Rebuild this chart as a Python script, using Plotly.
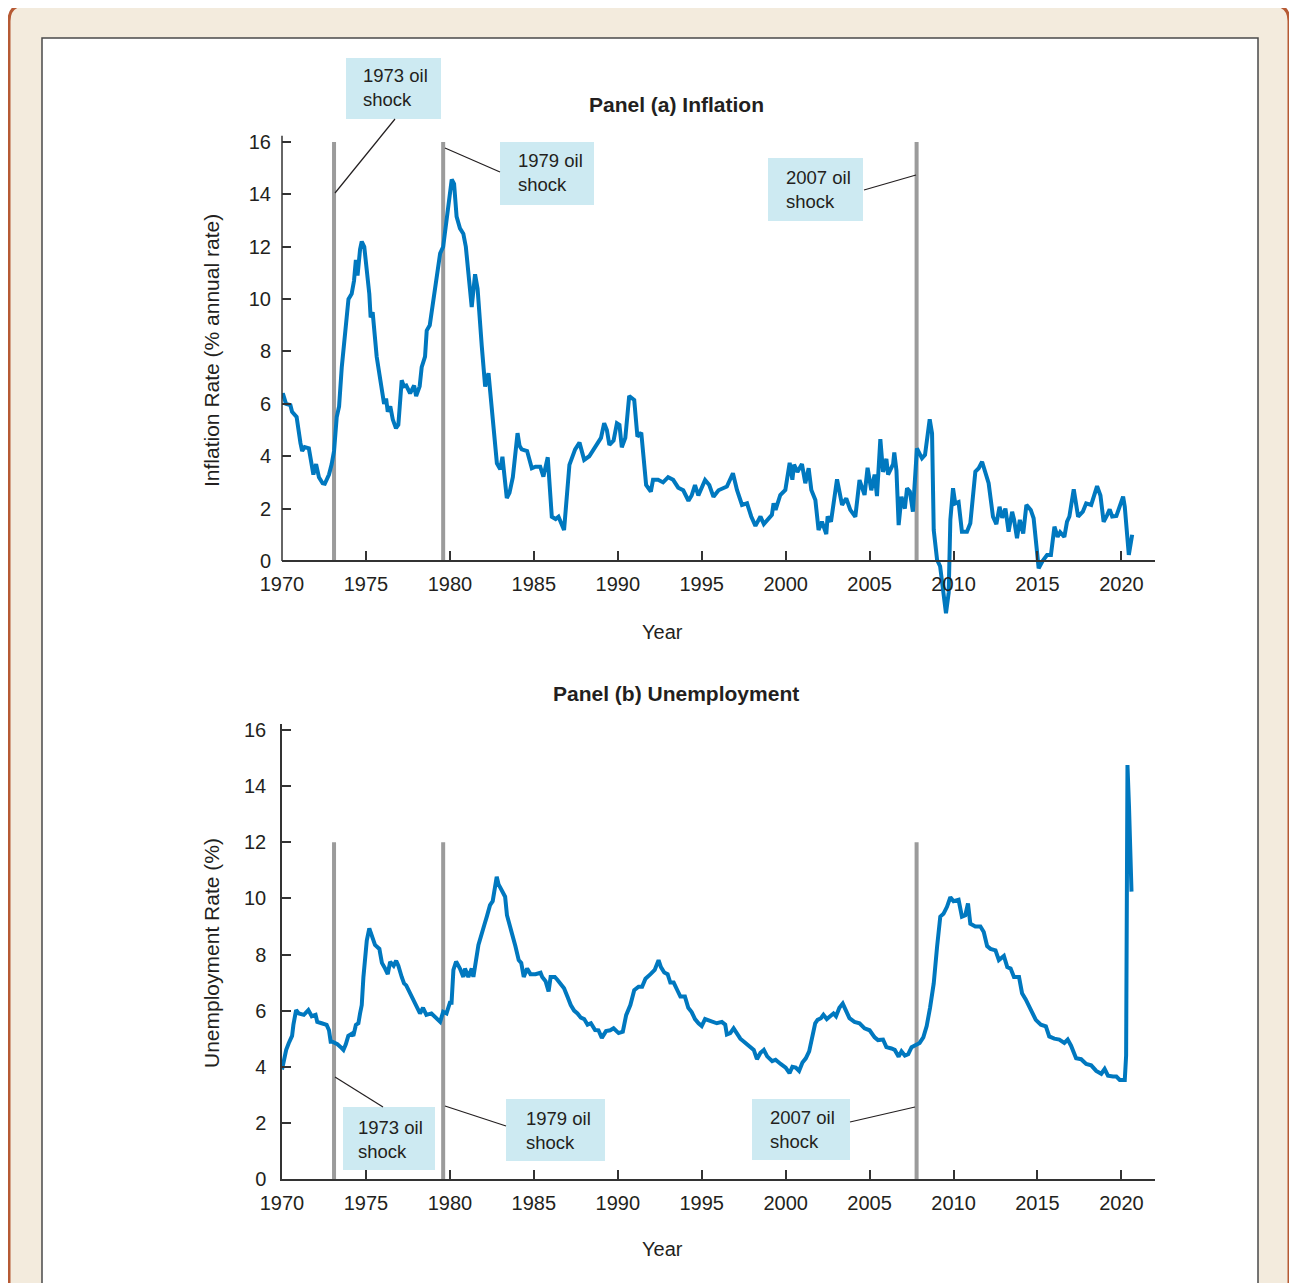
import plotly.graph_objects as go

# page body margin in the viewer is 8px; the figure is sized so the picture fills the window
OFF = 8
W, H = 1297 - OFF, 1283 - OFF

# ---------------- data ----------------
INFL_YEARS = [
    1970.00, 1970.05, 1970.24, 1970.50, 1970.60, 1970.87, 1971.10, 1971.20, 1971.35, 1971.60,
    1971.87, 1972.03, 1972.20, 1972.42, 1972.55, 1972.80, 1972.96, 1973.10, 1973.26, 1973.40,
    1973.56, 1973.70, 1973.96, 1974.15, 1974.29, 1974.40, 1974.50, 1974.65, 1974.75, 1974.90,
    1975.05, 1975.20, 1975.28, 1975.40, 1975.64, 1975.85, 1976.08, 1976.20, 1976.30, 1976.45,
    1976.60, 1976.79, 1976.93, 1977.13, 1977.26, 1977.40, 1977.63, 1977.87, 1977.99, 1978.20,
    1978.32, 1978.52, 1978.62, 1978.80, 1979.02, 1979.20, 1979.42, 1979.60, 1979.82, 1980.00,
    1980.11, 1980.25, 1980.40, 1980.60, 1980.80, 1980.95, 1981.20, 1981.30, 1981.50, 1981.65,
    1981.90, 1982.10, 1982.30, 1982.45, 1982.60, 1982.80, 1983.00, 1983.13, 1983.39, 1983.55,
    1983.75, 1984.03, 1984.15, 1984.28, 1984.60, 1984.88, 1985.10, 1985.38, 1985.57, 1985.83,
    1986.07, 1986.30, 1986.47, 1986.80, 1987.12, 1987.46, 1987.72, 1988.00, 1988.30, 1988.75,
    1989.00, 1989.19, 1989.35, 1989.50, 1989.75, 1989.95, 1990.10, 1990.24, 1990.45, 1990.68,
    1990.85, 1990.98, 1991.17, 1991.40, 1991.69, 1991.97, 1992.10, 1992.40, 1992.70, 1993.00,
    1993.30, 1993.60, 1993.90, 1994.21, 1994.40, 1994.60, 1994.80, 1995.20, 1995.45, 1995.70,
    1996.00, 1996.50, 1996.86, 1997.10, 1997.40, 1997.70, 1997.95, 1998.20, 1998.50, 1998.70,
    1999.18, 1999.28, 1999.40, 1999.68, 1999.98, 2000.24, 2000.40, 2000.50, 2000.70, 2000.97,
    2001.17, 2001.37, 2001.53, 2001.77, 2001.96, 2002.16, 2002.42, 2002.50, 2002.70, 2003.06,
    2003.36, 2003.61, 2003.85, 2004.15, 2004.40, 2004.70, 2004.88, 2005.10, 2005.30, 2005.44,
    2005.64, 2005.80, 2006.00, 2006.10, 2006.40, 2006.47, 2006.60, 2006.73, 2006.90, 2007.10,
    2007.23, 2007.40, 2007.58, 2007.82, 2008.12, 2008.30, 2008.58, 2008.72, 2008.82, 2009.02,
    2009.20, 2009.37, 2009.55, 2009.71, 2009.81, 2009.97, 2010.10, 2010.30, 2010.50, 2010.80,
    2011.00, 2011.30, 2011.50, 2011.70, 2011.90, 2012.09, 2012.35, 2012.55, 2012.74, 2012.90,
    2013.09, 2013.28, 2013.49, 2013.60, 2013.78, 2013.95, 2014.15, 2014.34, 2014.60, 2014.77,
    2015.07, 2015.30, 2015.57, 2015.80, 2016.01, 2016.20, 2016.35, 2016.60, 2016.76, 2016.90,
    2017.16, 2017.42, 2017.70, 2017.90, 2018.20, 2018.35, 2018.55, 2018.75, 2018.94, 2019.15,
    2019.30, 2019.45, 2019.70, 2020.10, 2020.20, 2020.44, 2020.64,
]
INFL_VALUES = [
    6.2, 6.4, 6.0, 5.95, 5.7, 5.5, 4.5, 4.2, 4.35, 4.3,
    3.3, 3.7, 3.2, 2.97, 2.95, 3.3, 3.7, 4.2, 5.5, 5.9,
    7.4, 8.2, 10.0, 10.2, 10.7, 11.5, 10.9, 11.9, 12.2, 12.0,
    11.1, 10.2, 9.3, 9.5, 7.8, 7.0, 6.0, 6.2, 5.7, 5.9,
    5.4, 5.07, 5.2, 6.9, 6.67, 6.7, 6.4, 6.7, 6.3, 6.67,
    7.4, 7.8, 8.8, 9.0, 10.0, 10.6, 11.75, 12.0, 13.15, 14.0,
    14.57, 14.4, 13.15, 12.7, 12.5, 12.0, 10.1, 9.7, 10.95, 10.4,
    8.2, 6.66, 7.17, 6.0, 5.0, 3.73, 3.5, 3.98, 2.4, 2.6,
    3.2, 4.88, 4.4, 4.26, 4.2, 3.54, 3.6, 3.6, 3.22, 3.96,
    1.69, 1.6, 1.69, 1.18, 3.67, 4.26, 4.52, 3.86, 4.0, 4.49,
    4.7, 5.26, 5.0, 4.43, 4.6, 5.26, 5.2, 4.34, 4.7, 6.3,
    6.2, 6.15, 4.75, 4.9, 2.9, 2.65, 3.1, 3.1, 3.0, 3.2,
    3.1, 2.8, 2.7, 2.3, 2.5, 2.9, 2.5, 3.09, 2.9, 2.45,
    2.7, 2.84, 3.35, 2.71, 2.14, 2.2, 1.7, 1.34, 1.7, 1.41,
    1.76, 2.2, 1.95, 2.52, 2.71, 3.75, 3.1, 3.68, 3.4, 3.7,
    2.97, 3.54, 2.71, 2.33, 1.18, 1.5, 1.03, 1.7, 1.5, 3.12,
    2.14, 2.39, 1.95, 1.69, 3.09, 2.52, 3.56, 2.7, 3.3, 2.48,
    4.65, 3.4, 3.9, 3.3, 3.7, 4.14, 3.45, 1.37, 2.45, 2.0,
    2.78, 2.65, 1.88, 4.3, 3.92, 4.05, 5.41, 4.87, 1.18, 0.04,
    -0.2, -1.23, -2.0, -1.22, 1.57, 2.78, 2.2, 2.25, 1.12, 1.12,
    1.44, 3.41, 3.54, 3.79, 3.4, 2.97, 1.69, 1.41, 2.07, 1.65,
    2.0, 1.12, 1.88, 1.6, 0.87, 1.57, 1.05, 2.14, 1.95, 1.63,
    -0.28, 0.0, 0.23, 0.23, 1.31, 0.92, 1.1, 0.92, 1.5, 1.7,
    2.74, 1.69, 1.88, 2.2, 2.14, 2.46, 2.86, 2.5, 1.5, 1.75,
    1.97, 1.7, 1.72, 2.46, 2.07, 0.23, 1.0,
]

UNEMP_YEARS = [
    1970.00, 1970.25, 1970.40, 1970.60, 1970.68, 1970.84, 1971.00, 1971.30, 1971.57, 1971.77,
    1972.00, 1972.10, 1972.36, 1972.66, 1972.80, 1972.90, 1973.00, 1973.30, 1973.50, 1973.66,
    1973.80, 1973.95, 1974.15, 1974.25, 1974.40, 1974.55, 1974.65, 1974.75, 1974.85, 1974.95,
    1975.05, 1975.20, 1975.35, 1975.54, 1975.80, 1975.95, 1976.14, 1976.30, 1976.44, 1976.65,
    1976.80, 1976.93, 1977.13, 1977.27, 1977.40, 1977.57, 1977.77, 1978.00, 1978.22, 1978.40,
    1978.60, 1978.90, 1979.22, 1979.42, 1979.60, 1979.80, 1980.00, 1980.10, 1980.21, 1980.37,
    1980.60, 1980.80, 1980.90, 1981.10, 1981.30, 1981.40, 1981.70, 1981.90, 1982.05, 1982.20,
    1982.39, 1982.55, 1982.79, 1982.90, 1983.10, 1983.29, 1983.40, 1983.60, 1983.76, 1983.90,
    1984.10, 1984.25, 1984.40, 1984.60, 1984.80, 1985.10, 1985.40, 1985.50, 1985.70, 1985.88,
    1986.00, 1986.25, 1986.40, 1986.60, 1986.80, 1987.00, 1987.20, 1987.40, 1987.60, 1987.80,
    1988.00, 1988.20, 1988.40, 1988.65, 1988.85, 1989.05, 1989.30, 1989.55, 1989.75, 1990.05,
    1990.30, 1990.50, 1990.75, 1990.98, 1991.24, 1991.45, 1991.65, 1991.95, 1992.20, 1992.43,
    1992.57, 1992.77, 1992.97, 1993.13, 1993.33, 1993.57, 1993.73, 1994.00, 1994.20, 1994.40,
    1994.60, 1994.81, 1995.00, 1995.20, 1995.40, 1995.70, 1995.90, 1996.20, 1996.40, 1996.50,
    1996.70, 1996.90, 1997.10, 1997.30, 1997.50, 1997.80, 1998.10, 1998.29, 1998.50, 1998.70,
    1998.90, 1999.20, 1999.40, 1999.70, 2000.00, 2000.23, 2000.40, 2000.60, 2000.80, 2001.00,
    2001.20, 2001.40, 2001.60, 2001.76, 2001.90, 2002.10, 2002.25, 2002.45, 2002.65, 2002.85,
    2003.00, 2003.20, 2003.40, 2003.60, 2003.80, 2004.10, 2004.40, 2004.70, 2005.00, 2005.30,
    2005.50, 2005.80, 2006.00, 2006.30, 2006.50, 2006.73, 2006.90, 2007.10, 2007.30, 2007.50,
    2007.70, 2007.98, 2008.20, 2008.40, 2008.60, 2008.82, 2009.02, 2009.21, 2009.40, 2009.61,
    2009.81, 2010.00, 2010.30, 2010.50, 2010.70, 2010.86, 2011.00, 2011.30, 2011.60, 2011.80,
    2012.00, 2012.20, 2012.50, 2012.70, 2013.00, 2013.20, 2013.40, 2013.60, 2013.90, 2014.08,
    2014.30, 2014.50, 2014.70, 2014.90, 2015.20, 2015.50, 2015.70, 2016.00, 2016.30, 2016.60,
    2016.80, 2017.00, 2017.30, 2017.60, 2017.90, 2018.20, 2018.50, 2018.80, 2019.00, 2019.20,
    2019.50, 2019.70, 2019.90, 2020.20, 2020.28, 2020.36, 2020.45, 2020.53, 2020.60,
]
UNEMP_VALUES = [
    3.9, 4.6, 4.84, 5.1, 5.5, 6.02, 5.9, 5.85, 6.02, 5.8,
    5.85, 5.6, 5.55, 5.49, 5.3, 4.89, 4.89, 4.8, 4.7, 4.6,
    4.8, 5.1, 5.17, 5.1, 5.49, 5.55, 5.9, 6.2, 7.2, 8.04,
    8.5, 8.93, 8.7, 8.34, 8.2, 7.7, 7.5, 7.3, 7.74, 7.6,
    7.78, 7.6, 7.2, 6.97, 6.9, 6.7, 6.4, 6.2, 5.9, 6.1,
    5.85, 5.9, 5.73, 5.6, 5.96, 5.9, 6.28, 6.28, 7.45, 7.75,
    7.5, 7.2, 7.5, 7.2, 7.5, 7.2, 8.34, 8.8, 9.05, 9.35,
    9.76, 9.9, 10.77, 10.5, 10.3, 10.06, 9.4, 8.9, 8.5, 8.3,
    7.8, 7.7, 7.2, 7.5, 7.3, 7.3, 7.35, 7.2, 7.05, 6.68,
    7.2, 7.2, 7.1, 6.95, 6.8, 6.5, 6.2, 6.0, 5.9, 5.75,
    5.7, 5.5, 5.55, 5.31, 5.3, 5.03, 5.27, 5.3, 5.37, 5.2,
    5.25, 5.84, 6.2, 6.73, 6.85, 6.85, 7.14, 7.3, 7.45, 7.8,
    7.55, 7.36, 7.3, 7.0, 7.0, 6.7, 6.5, 6.5, 6.1, 5.95,
    5.7, 5.55, 5.45, 5.7, 5.65, 5.6, 5.55, 5.6, 5.5, 5.15,
    5.2, 5.37, 5.2, 5.0, 4.9, 4.75, 4.6, 4.27, 4.5, 4.6,
    4.37, 4.2, 4.25, 4.1, 3.97, 3.77, 4.0, 3.97, 3.85, 4.15,
    4.3, 4.55, 5.05, 5.55, 5.67, 5.73, 5.85, 5.7, 5.8, 5.9,
    5.8, 6.1, 6.25, 5.97, 5.73, 5.6, 5.55, 5.37, 5.3, 5.05,
    4.95, 4.97, 4.7, 4.65, 4.6, 4.36, 4.55, 4.4, 4.45, 4.7,
    4.75, 4.85, 5.05, 5.45, 6.1, 6.97, 8.28, 9.35, 9.45, 9.7,
    10.04, 9.9, 9.95, 9.35, 9.4, 9.82, 9.1, 9.0, 9.0, 8.8,
    8.3, 8.2, 8.15, 7.8, 7.95, 7.55, 7.5, 7.2, 7.2, 6.62,
    6.4, 6.15, 5.9, 5.67, 5.5, 5.44, 5.08, 5.0, 4.97, 4.85,
    4.97, 4.75, 4.3, 4.27, 4.1, 4.05, 3.85, 3.75, 3.92, 3.68,
    3.65, 3.65, 3.53, 3.53, 4.4, 14.75, 13.3, 11.1, 10.24,
]

OIL_SHOCK_YEARS = [1973.1, 1979.6, 2007.8]
OIL_SHOCK_LABELS = ["1973 oil<br>shock", "1979 oil<br>shock", "2007 oil<br>shock"]
Y_TICKS = [0, 2, 4, 6, 8, 10, 12, 14, 16]
X_TICKS = [1970, 1975, 1980, 1985, 1990, 1995, 2000, 2005, 2010, 2015, 2020]

# ---------------- style ----------------
BLUE = "#0078BF"
GRAY = "#9B9B9B"
TXT = "#231F20"
FONT = "Liberation Sans, Arial, Helvetica, sans-serif"
BOXFILL = "#CDEAF2"


def px(x):
    return (x - OFF) / W


def py(y):
    return 1 - (y - OFF) / H


fig = go.Figure()
fig.add_trace(go.Scatter(x=INFL_YEARS, y=INFL_VALUES, mode="lines",
                         line=dict(color=BLUE, width=4), xaxis="x", yaxis="y",
                         showlegend=False, hoverinfo="skip"))
fig.add_trace(go.Scatter(x=UNEMP_YEARS, y=UNEMP_VALUES, mode="lines",
                         line=dict(color=BLUE, width=4), xaxis="x2", yaxis="y2",
                         showlegend=False, hoverinfo="skip"))

shapes = []
# outer rounded beige frame (open at the bottom: page cuts it)
r = 16
L, T, R, B = 9, 5, 1289, 1283
path = (f"M {px(L)},{py(B)} L {px(L)},{py(T + r)} Q {px(L)},{py(T)} {px(L + r)},{py(T)} "
        f"L {px(R - r)},{py(T)} Q {px(R)},{py(T)} {px(R)},{py(T + r)} "
        f"L {px(R)},{py(B)}")
shapes.append(dict(type="path", path=path, xref="paper", yref="paper",
                   fillcolor="#F3EBDD", line=dict(color="#B65A34", width=3), layer="below"))
# inner white panel
ipath = (f"M {px(42)},{py(1283)} L {px(42)},{py(38)} L {px(1258)},{py(38)} L {px(1258)},{py(1283)}")
shapes.append(dict(type="path", path=ipath, xref="paper", yref="paper", fillcolor="white",
                   line=dict(color="#4A4A4A", width=1.5), layer="below"))

# oil-shock vertical lines
for yr in OIL_SHOCK_YEARS:
    shapes.append(dict(type="line", xref="x", yref="y", x0=yr, x1=yr, y0=0, y1=16,
                       line=dict(color=GRAY, width=4), layer="below"))
    shapes.append(dict(type="line", xref="x2", yref="y2", x0=yr, x1=yr, y0=0, y1=12,
                       line=dict(color=GRAY, width=4), layer="below"))

# y axis line for panel (a) (only from 0 upward)
shapes.append(dict(type="line", xref="x domain", yref="y", x0=0, x1=0, y0=0, y1=16.25,
                   line=dict(color="#333333", width=1.5)))

# label boxes (pixel layout)
boxes = [
    (346, 441, 58, 119, 361, 87, 0),
    (500, 594, 142, 205, 516, 173, 1),
    (768, 863, 158, 221, 784, 190, 2),
    (343, 435, 1107, 1170, 356, 1139, 0),
    (506, 605, 1099, 1161, 524, 1130, 1),
    (752, 850, 1099, 1160, 768, 1129, 2),
]
connectors = [
    (335, 193, 395, 119), (445, 148, 500, 172), (864, 190, 916, 175),
    (335, 1077, 383, 1107), (445, 1106, 506, 1126), (850, 1122, 915, 1107),
]
annotations = []
for (x0, x1, y0, y1, tx, ty, k) in boxes:
    shapes.append(dict(type="rect", xref="paper", yref="paper", x0=px(x0), x1=px(x1),
                       y0=py(y1), y1=py(y0), fillcolor=BOXFILL, line=dict(width=0)))
    annotations.append(dict(xref="paper", yref="paper", x=px(tx), y=py(ty), text=OIL_SHOCK_LABELS[k],
                            showarrow=False, xanchor="left", yanchor="middle", align="left",
                            font=dict(family=FONT, size=18.5, color=TXT)))
for (ax0, ay0, ax1, ay1) in connectors:
    shapes.append(dict(type="line", xref="paper", yref="paper", x0=px(ax0), y0=py(ay0),
                       x1=px(ax1), y1=py(ay1), line=dict(color=TXT, width=1.2)))

# titles
annotations += [
    dict(xref="paper", yref="paper", x=px(676), y=py(104), text="<b>Panel (a) Inflation</b>",
         showarrow=False, xanchor="center", yanchor="middle", font=dict(family=FONT, size=21, color=TXT)),
    dict(xref="paper", yref="paper", x=px(676), y=py(693), text="<b>Panel (b) Unemployment</b>",
         showarrow=False, xanchor="center", yanchor="middle", font=dict(family=FONT, size=21, color=TXT)),
    dict(xref="paper", yref="paper", x=px(662), y=py(632), text="Year",
         showarrow=False, xanchor="center", yanchor="middle", font=dict(family=FONT, size=20, color=TXT)),
    dict(xref="paper", yref="paper", x=px(662), y=py(1249), text="Year",
         showarrow=False, xanchor="center", yanchor="middle", font=dict(family=FONT, size=20, color=TXT)),
    dict(xref="paper", yref="paper", x=px(211), y=py(351), text="Inflation Rate (% annual rate)",
         textangle=-90, showarrow=False, xanchor="center", yanchor="middle",
         font=dict(family=FONT, size=21, color=TXT)),
    dict(xref="paper", yref="paper", x=px(211), y=py(953), text="Unemployment Rate (%)",
         textangle=-90, showarrow=False, xanchor="center", yanchor="middle",
         font=dict(family=FONT, size=21, color=TXT)),
]

tickfont = dict(family=FONT, size=20, color=TXT)
xcommon = dict(range=[1970, 2022], tickvals=X_TICKS, ticks="inside", ticklen=9, tickwidth=1.5,
               tickcolor="#333333", showline=True, linecolor="#333333", linewidth=1.5,
               showgrid=False, zeroline=False, tickfont=tickfont, ticklabelstandoff=5,
               automargin=False, domain=[px(282), px(1155)])
ycommon = dict(tickvals=Y_TICKS, ticks="inside", ticklen=9, tickwidth=1.5, tickcolor="#333333",
               showgrid=False, zeroline=False, tickfont=tickfont, ticklabelstandoff=10,
               automargin=False)

fig.update_layout(
    width=W, height=H, autosize=False, margin=dict(l=0, r=0, t=0, b=0, pad=0),
    paper_bgcolor="white", plot_bgcolor="rgba(0,0,0,0)",
    shapes=shapes, annotations=annotations, showlegend=False,
    xaxis=dict(**xcommon, anchor="free", position=py(561)),
    yaxis=dict(**ycommon, range=[-2.3, 16.25], showline=False, anchor="x",
               domain=[py(621.2), py(135.45)]),
    xaxis2=dict(**xcommon, anchor="y2"),
    yaxis2=dict(**ycommon, range=[0, 16.2], showline=True, linecolor="#333333", linewidth=1.5,
                anchor="x2", domain=[py(1179), py(724.4)]),
)

fig.write_html("out.html")
